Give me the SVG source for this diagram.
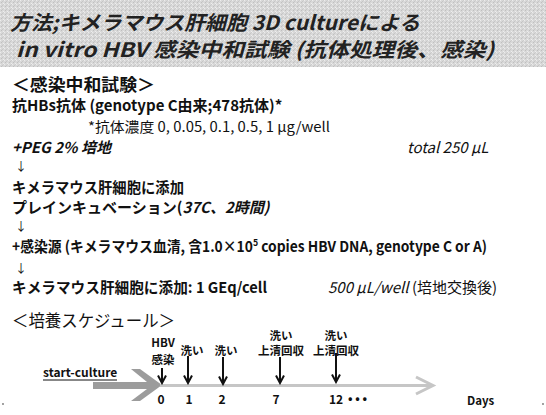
<svg xmlns="http://www.w3.org/2000/svg" width="546" height="415" viewBox="0 0 546 415">
<defs>
<pattern id="noise" width="4" height="4" patternUnits="userSpaceOnUse">
<rect width="4" height="4" fill="#d8d8d8"/>
<rect x="0" y="0" width="1" height="1" fill="#ececec"/>
<rect x="2" y="1" width="1" height="1" fill="#c6c6c6"/>
<rect x="1" y="2" width="1" height="1" fill="#bfbfbf"/>
<rect x="3" y="3" width="1" height="1" fill="#eeeeee"/>
<rect x="3" y="0" width="1" height="1" fill="#cdcdcd"/>
</pattern>
<marker id="ah" viewBox="0 0 10 10" refX="8.5" refY="5" markerWidth="10" markerHeight="10" markerUnits="userSpaceOnUse" orient="auto">
<path d="M1,1 L8.5,5 L1,9" fill="none" stroke="#111" stroke-width="2"/>
</marker>
</defs>
<style>
text{font-family:"Noto Sans CJK JP","Liberation Sans",sans-serif;fill:#111}
.title{font-size:20px;font-style:italic;font-weight:bold;fill:#222}
.hdr{font-size:17px;font-weight:bold}
.hdr2{font-size:17px}
.b{font-size:15px;font-weight:bold}
.r{font-size:14px}
.it{font-size:15px;font-style:italic}
.dn{font-size:12px}
.tl{font-size:11.5px;font-weight:bold;text-anchor:middle}
.num{font-size:12px;font-weight:bold;text-anchor:middle}
.arr{stroke:#111;stroke-width:2;fill:none;marker-end:url(#ah)}
</style>
<rect width="546" height="415" fill="#ffffff"/>
<g id="title">
<rect x="0" y="0" width="546" height="67" fill="url(#noise)"/>
<text class="title" x="10" y="30" textLength="410" lengthAdjust="spacingAndGlyphs">方法;キメラマウス肝細胞 3D cultureによる</text>
<text class="title" x="16" y="57" textLength="478" lengthAdjust="spacingAndGlyphs">in vitro HBV 感染中和試験 (抗体処理後、感染)</text>
</g>
<g id="protocol">
<text class="hdr" x="12" y="91" textLength="143" lengthAdjust="spacingAndGlyphs">＜感染中和試験＞</text>
<text class="b" x="12" y="111">抗HBs抗体 (genotype C由来;478抗体)*</text>
<text class="r" x="88" y="132" textLength="242" lengthAdjust="spacingAndGlyphs">*抗体濃度  0, 0.05, 0.1, 0.5, 1 μg/well</text>
<text class="it" x="12" y="153" font-weight="bold">+PEG 2%  培地</text>
<text class="it" x="407" y="153">total 250 μL</text>
<text class="dn" x="15" y="171">↓</text>
<text class="b" x="12" y="193" textLength="172" lengthAdjust="spacingAndGlyphs">キメラマウス肝細胞に添加</text>
<text class="b" x="12" y="213">プレインキュベーション(<tspan font-style="italic">37C、2時間)</tspan></text>
<text class="dn" x="15" y="231">↓</text>
<text class="b" x="12" y="252" textLength="475" lengthAdjust="spacingAndGlyphs">+感染源 (キメラマウス血清, 含1.0×10<tspan font-size="9.5" dy="-6">5</tspan><tspan dy="6"> copies HBV DNA, genotype C or A)</tspan></text>
<text class="dn" x="15" y="273">↓</text>
<text class="b" x="12" y="293" textLength="255" lengthAdjust="spacingAndGlyphs">キメラマウス肝細胞に添加: 1 GEq/cell</text>
<text class="it" x="328" y="293">500 μL/well <tspan font-style="normal">(培地交換後)</tspan></text>
</g>
<g id="schedule">
<text class="hdr2" x="12" y="327" textLength="163" lengthAdjust="spacingAndGlyphs">＜培養スケジュール＞</text>
<text x="43" y="377" font-size="12" font-weight="bold">start-culture</text>
<line x1="43" y1="380" x2="117" y2="380" stroke="#111" stroke-width="1"/>
<path d="M93,382 L147,382 L131,369 L140,369 L162,385 L140,401 L131,401 L147,389 L93,389 Z" fill="#9c9c9c"/>
<line x1="160" y1="385.5" x2="432" y2="385.5" stroke="#c6c6c6" stroke-width="3"/>
<polyline points="416,377 433,385.5 416,394" fill="none" stroke="#c6c6c6" stroke-width="3"/>
<g id="day0">
<text class="tl" x="163" y="347">HBV</text>
<text class="tl" x="163" y="364">感染</text>
</g>
<g id="day1"><text class="tl" x="192" y="355">洗い</text></g>
<g id="day2"><text class="tl" x="226" y="355">洗い</text></g>
<g id="day7">
<text class="tl" x="281" y="340">洗い</text>
<text class="tl" x="281" y="355">上清回収</text>
</g>
<g id="day12">
<text class="tl" x="336" y="340">洗い</text>
<text class="tl" x="336" y="355">上清回収</text>
</g>
<text class="num" x="161" y="404">0</text>
<text class="num" x="189" y="404">1</text>
<text class="num" x="222" y="404">2</text>
<text class="num" x="276" y="404">7</text>
<text class="num" x="336" y="404">12</text>
<text x="348" y="403" font-size="12" font-weight="bold">• • •</text>
<text x="467" y="405" font-size="11.5" font-weight="bold">Days</text>
<circle cx="3" cy="404" r="0.9" fill="#777"/>
<circle cx="543" cy="404" r="0.9" fill="#777"/>
</g>
<g id="connectors">
<line class="arr" x1="162" y1="368" x2="162" y2="383"/>
<line class="arr" x1="188" y1="356" x2="188" y2="383"/>
<line class="arr" x1="223" y1="357" x2="223" y2="384"/>
<line class="arr" x1="280" y1="357" x2="280" y2="383"/>
<line class="arr" x1="336" y1="353" x2="336" y2="382"/>
</g>
</svg>
